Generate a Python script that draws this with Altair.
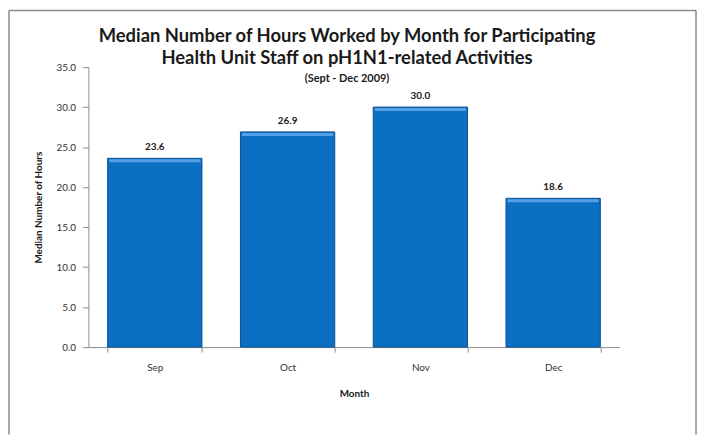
import altair as alt
import pandas as pd

months = ["Sep", "Oct", "Nov", "Dec"]
hours = [23.6, 26.9, 30.0, 18.6]
y_ticks = [0, 5, 10, 15, 20, 25, 30, 35]
title_lines = ["Median Number of Hours Worked by Month for Participating",
               "Health Unit Staff on pH1N1-related Activities"]
subtitle_text = "(Sept - Dec 2009)"

df = pd.DataFrame({"Month": months, "Hours": hours})
FONT = "Lato"

x_enc = alt.X("Month:N", sort=months,
              scale=alt.Scale(paddingInner=0.29, paddingOuter=0.145),
              axis=alt.Axis(title="Month", labelAngle=0, tickBand="extent",
                            labelFont=FONT, labelFontSize=10, labelColor="#333333",
                            labelPadding=11, tickSize=5, tickColor="#8c8c8c",
                            domainColor="#8c8c8c", titleFont=FONT, titleFontSize=10,
                            titleFontWeight="bold", titleColor="#1a1a1a", titlePadding=16))
y_enc = alt.Y("Hours:Q", scale=alt.Scale(domain=[0, 35], nice=False),
              axis=alt.Axis(title="Median Number of Hours", values=y_ticks, format=".1f",
                            grid=False, labelFont=FONT, labelFontSize=10,
                            labelColor="#333333", labelPadding=7, tickSize=6,
                            tickColor="#8c8c8c", domainColor="#8c8c8c",
                            titleFont=FONT, titleFontSize=10, titleFontWeight="bold",
                            titleColor="#1a1a1a", titlePadding=12))

base = alt.Chart(df)
bars = base.mark_bar(color="#0b6fc4", stroke="#0a4f8f", strokeWidth=1).encode(x=x_enc, y=y_enc)
bevel = base.mark_tick(color="#5aa6e8", thickness=3, size=92, orient="horizontal",
                       yOffset=2.5, opacity=0.9).encode(x=alt.X("Month:N", sort=months),
                                                        y="Hours:Q")
labels = base.mark_text(font=FONT, fontSize=10, fontWeight="bold", color="#1a1a1a",
                        baseline="alphabetic", dy=-8).encode(
    x=alt.X("Month:N", sort=months), y="Hours:Q", text=alt.Text("Hours:Q", format=".1f"))

one = alt.Chart(pd.DataFrame({"a": [0]}))
border_style = dict(color="#8a8a8a", strokeWidth=1.5)
left_rule = one.mark_rule(**border_style).encode(x=alt.value(-80), y=alt.value(-57), y2=alt.value(370))
right_rule = one.mark_rule(**border_style).encode(x=alt.value(612), y=alt.value(-57), y2=alt.value(370))
top_rule = one.mark_rule(**border_style).encode(x=alt.value(-80), x2=alt.value(612), y=alt.value(-57))

chart = alt.layer(bars, bevel, labels, left_rule, right_rule, top_rule).properties(
    width=535, height=282, padding=0,
    title=alt.TitleParams(text=title_lines, subtitle=subtitle_text, anchor="middle",
                          frame="group", font=FONT, fontSize=18.5, fontWeight="bold",
                          color="#1a1a1a", lineHeight=22, subtitleFont=FONT,
                          subtitleFontSize=11, subtitleFontWeight="bold",
                          subtitleColor="#1a1a1a", subtitlePadding=6, offset=-75, dx=-7)
).configure_view(stroke=None)

chart.save("out.html", embed_options={"renderer": "svg", "actions": False})
